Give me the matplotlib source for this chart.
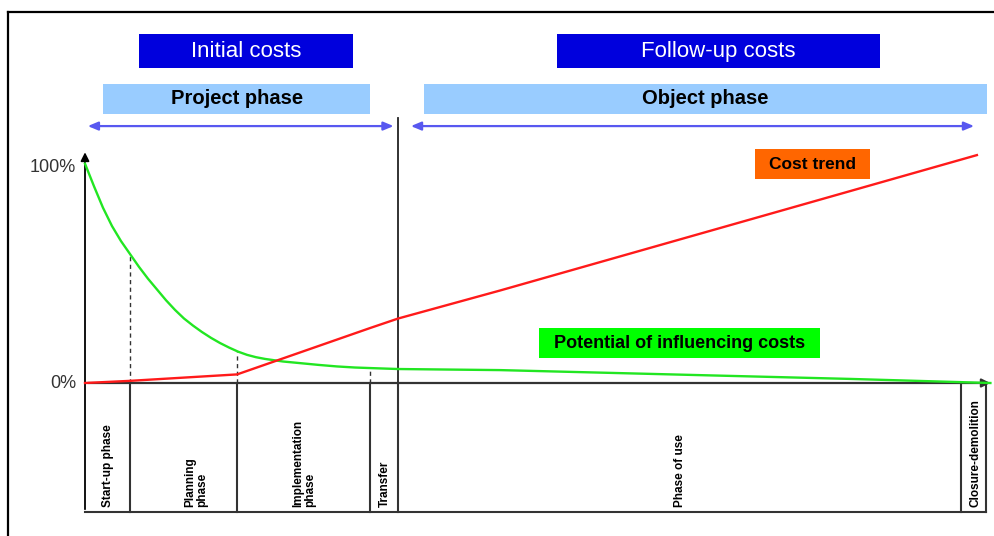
import matplotlib
matplotlib.use("Agg")
import matplotlib.pyplot as plt
from matplotlib.patches import Rectangle

# phase boundaries along the life cycle (arbitrary time units)
phase_bounds = [0, 5, 16.9, 31.7, 34.8, 97.3, 100.1]
phase_labels = ["Start-up phase", "Planning\nphase", "Implementation\nphase",
                "Transfer", "Phase of use", "Closure-demolition"]
label_x = [2.6, 12.4, 24.4, 33.3, 66.1, 98.9]

# potential of influencing costs (%)
infl_t = [0, 1, 2, 3, 4, 5, 6, 7, 8, 9, 10, 11, 12, 13, 14, 15, 16, 17, 18, 19, 20,
          22, 24, 26, 28, 30, 32, 34.8, 46.1, 85, 100.6]
infl_v = [102, 91.5, 81.5, 73, 66, 60, 54, 48.5, 43.5, 38.5, 34, 30, 26.7, 23.7, 21,
          18.6, 16.5, 14.6, 13.1, 12, 11.2, 10, 9.2, 8.4, 7.7, 7.2, 6.9, 6.5, 6, 1.9, 0]

# cost trend (%)
cost_t = [0, 5, 16.9, 31.7, 34.8, 46.1, 99.1]
cost_v = [0, 1, 4, 25.6, 30, 43, 106]

# dashed guides from the curve down to the axis
guide_t = [5, 16.9, 31.7]
guide_v = [60, 14.6, 7]

GREEN = "#22e622"
RED = "#ff1a1a"
AXIS = "#333333"
ARROW = "#5858f0"
FONT = "Liberation Sans"

fig = plt.figure(figsize=(9.95, 5.36), dpi=100)
ax = fig.add_axes([0, 0, 1, 1])
ax.set_xlim(-85 / 9, 910 / 9)
ax.set_ylim(-153 / 2.15, 383 / 2.15)
ax.axis("off")

bottom = -60

# frame
ax.plot([-8.56, -8.56], [-80, 172.6], color="black", lw=1.6, clip_on=False)
ax.plot([-8.56, 110], [172.6, 172.6], color="black", lw=1.6, clip_on=False)

# axes
ax.annotate("", xy=(0, 108.6), xytext=(0, bottom),
            arrowprops=dict(arrowstyle="-|>,head_length=0.5,head_width=0.25", color="black", lw=1.3))
ax.annotate("", xy=(100.9, 0), xytext=(0, 0),
            arrowprops=dict(arrowstyle="-|>,head_length=0.5,head_width=0.25", color=AXIS, lw=1.6))
ax.plot([0, phase_bounds[-1]], [bottom, bottom], color=AXIS, lw=1.5)
for b in phase_bounds[1:]:
    ax.plot([b, b], [0, bottom], color=AXIS, lw=1.5)
ax.plot([phase_bounds[4]] * 2, [0, 123.3], color="#222222", lw=1.3)

for t, v in zip(guide_t, guide_v):
    ax.plot([t, t], [0, v], color=AXIS, lw=1.0, ls=(0, (3, 2.5)))

ax.text(-1.0, 100, "100%", ha="right", va="center", fontsize=13, color=AXIS, family=FONT)
ax.text(-1.0, 0, "0%", ha="right", va="center", fontsize=13, color=AXIS, family=FONT)

# curves
ax.plot(infl_t, infl_v, color=GREEN, lw=1.7, zorder=3)
ax.plot(cost_t, cost_v, color=RED, lw=1.7, zorder=4)

# phase labels
for x, lab in zip(label_x, phase_labels):
    ax.text(x, -57.7, lab, rotation=90, ha="center", va="bottom", multialignment="left",
            fontsize=8.5, fontweight="bold", family=FONT, linespacing=1.0)


def box(x0, x1, y0, y1, color, text, tcolor, size, weight):
    ax.add_patch(Rectangle((x0, y0), x1 - x0, y1 - y0, facecolor=color, edgecolor="none", zorder=2))
    ax.text((x0 + x1) / 2, (y0 + y1) / 2, text, ha="center", va="center", color=tcolor,
            fontsize=size, fontweight=weight, family=FONT, zorder=5)


box(6.0, 29.8, 146.5, 162.3, "#0000dd", "Initial costs", "white", 16, "normal")
box(52.4, 88.3, 146.5, 162.3, "#0000dd", "Follow-up costs", "white", 16, "normal")
box(2.0, 31.7, 125.1, 139.1, "#99ccff", "Project phase", "black", 14.5, "bold")
box(37.7, 100.2, 125.1, 139.1, "#99ccff", "Object phase", "black", 14.5, "bold")
box(74.4, 87.2, 94.9, 108.8, "#ff6600", "Cost trend", "black", 12.5, "bold")
box(50.4, 81.7, 11.6, 25.6, "#00ff00", "Potential of influencing costs", "black", 13, "bold")

# phase arrows
ax.annotate("", xy=(0, 119.5), xytext=(34.6, 119.5),
            arrowprops=dict(arrowstyle="<|-|>,head_length=0.6,head_width=0.25", color=ARROW, lw=1.6))
ax.annotate("", xy=(99.1, 119.5), xytext=(35.9, 119.5),
            arrowprops=dict(arrowstyle="<|-|>,head_length=0.6,head_width=0.25", color=ARROW, lw=1.6))

fig.savefig("out.png", dpi=100)
